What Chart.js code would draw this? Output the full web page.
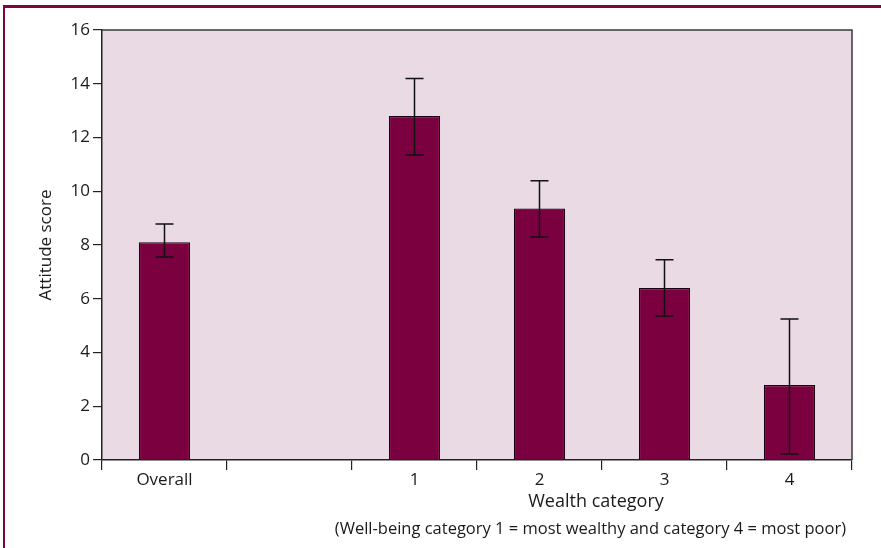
<!DOCTYPE html>
<html>
<head>
<meta charset="utf-8">
<script src="https://cdn.jsdelivr.net/npm/chart.js@4"></script>
<style>
  html, body { margin: 0; padding: 0; background: #fff; }
  #wrap { width: 881px; height: 548px; position: relative; }
</style>
</head>
<body>
<div id="wrap"><canvas id="chart" width="881" height="548"></canvas></div>
<script>
// Attitude score by wealth category (mean with error bars)
const categories = ['Overall', '', '1', '2', '3', '4'];
const scores     = [8.1, null, 12.8, 9.36, 6.4, 2.79];
const errLow     = [7.55, null, 11.35, 8.3, 5.36, 0.22];
const errHigh    = [8.78, null, 14.2, 10.39, 7.45, 5.25];
const yTicks     = [0, 2, 4, 6, 8, 10, 12, 14, 16];

const MAROON = '#7a0040';
const FONT = "'Open Sans', 'Noto Sans', sans-serif";

// background of plot area + top/right border + page frame
const framePlugin = {
  id: 'frame',
  beforeDraw(chart) {
    const { ctx, chartArea: a } = chart;
    ctx.save();
    ctx.fillStyle = '#e9dae3';
    ctx.fillRect(a.left, a.top, a.right - a.left, a.bottom - a.top);
    // page frame (top + left rule)
    ctx.fillStyle = '#7e0545';
    ctx.fillRect(3, 5, chart.width - 3, 3);
    ctx.fillRect(3, 5, 2, chart.height - 5);
    ctx.restore();
  },
  afterDraw(chart) {
    const { ctx, chartArea: a } = chart;
    ctx.save();
    ctx.strokeStyle = '#3a3a3a';
    ctx.lineWidth = 1.5;
    ctx.beginPath();
    ctx.moveTo(a.left, a.top);
    ctx.lineTo(a.right, a.top);
    ctx.lineTo(a.right, a.bottom);
    ctx.stroke();
    // axis captions
    ctx.fillStyle = '#1a1a1a';
    ctx.textBaseline = 'middle';
    ctx.textAlign = 'center';
    ctx.font = '18px ' + FONT;
    ctx.fillText('Wealth category', 596, 502);
    ctx.textAlign = 'right';
    ctx.font = '16.5px ' + FONT;
    ctx.fillText('(Well-being category 1 = most wealthy and category 4 = most poor)', 846, 529);
    ctx.restore();
  }
};

// error bars drawn through the y scale
const errorBars = {
  id: 'errorBars',
  afterDatasetsDraw(chart) {
    const { ctx, scales: { y } } = chart;
    const meta = chart.getDatasetMeta(0);
    ctx.save();
    ctx.strokeStyle = '#111';
    ctx.lineWidth = 1.5;
    meta.data.forEach((bar, i) => {
      if (errLow[i] == null) return;
      const x = bar.x;
      const yl = y.getPixelForValue(errLow[i]);
      const yh = y.getPixelForValue(errHigh[i]);
      ctx.beginPath();
      ctx.moveTo(x, yl); ctx.lineTo(x, yh);
      ctx.moveTo(x - 9, yl); ctx.lineTo(x + 9, yl);
      ctx.moveTo(x - 9, yh); ctx.lineTo(x + 9, yh);
      ctx.stroke();
    });
    ctx.restore();
  }
};

new Chart(document.getElementById('chart'), {
  type: 'bar',
  data: {
    labels: categories,
    datasets: [{
      data: scores,
      backgroundColor: MAROON,
      borderColor: '#1a0010',
      borderWidth: 1.2,
      barPercentage: 0.41,
      categoryPercentage: 1.0,
    }],
  },
  options: {
    responsive: false,
    animation: false,
    layout: { padding: { left: 0, top: 30, right: 29, bottom: 0 } },
    plugins: { legend: { display: false }, tooltip: { enabled: false } },
    scales: {
      x: {
        afterFit(scale) { scale.height = 88; },
        grid: { offset: true, drawOnChartArea: false, drawTicks: true, tickLength: 10, color: '#222', lineWidth: 1.2 },
        border: { color: '#222', width: 1.5 },
        ticks: { color: '#1a1a1a', font: { family: FONT, size: 17 }, padding: 0 },
      },
      y: {
        min: 0, max: 16,
        afterFit(scale) { scale.width = 102; },
        afterBuildTicks(scale) { scale.ticks = yTicks.map(v => ({ value: v })); },
        grid: { drawOnChartArea: false, drawTicks: true, tickLength: 9, color: '#222', lineWidth: 1.2 },
        border: { color: '#222', width: 1.5 },
        ticks: { color: '#1a1a1a', font: { family: FONT, size: 17 }, padding: 3 },
        title: { display: true, text: 'Attitude score', color: '#1a1a1a', font: { family: FONT, size: 17 }, padding: { top: 36, bottom: 0 } },
      },
    },
  },
  plugins: [framePlugin, errorBars],
});
</script>
</body>
</html>
